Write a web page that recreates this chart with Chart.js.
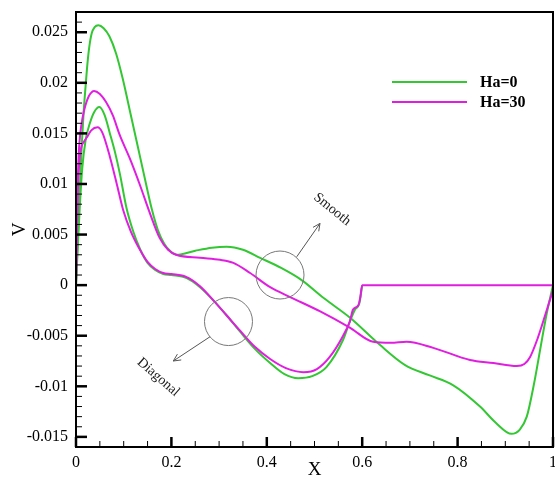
<!DOCTYPE html>
<html>
<head>
<meta charset="utf-8">
<script src="https://cdn.jsdelivr.net/npm/chart.js@4.4.0/dist/chart.umd.min.js"></script>
<style>
  html, body { margin: 0; padding: 0; background: #fff; }
</style>
</head>
<body>
<canvas id="myChart" width="555" height="481"></canvas>
<script>
// Ha=0, smooth
const xSmooth0 = [0, 0.004, 0.008, 0.012, 0.016, 0.02, 0.024, 0.028, 0.033, 0.039, 0.047, 0.058, 0.07, 0.084, 0.098, 0.115, 0.13, 0.145, 0.159, 0.172, 0.185, 0.197, 0.211, 0.25, 0.285, 0.316, 0.35, 0.386, 0.43, 0.473, 0.52, 0.574, 0.637, 0.69, 0.74, 0.791, 0.847, 0.88, 0.913, 0.93, 0.945, 0.96, 0.973, 0.986, 1];
const vSmooth0 = [0, 0.005, 0.0095, 0.0138, 0.0171, 0.0196, 0.0219, 0.0236, 0.0249, 0.0255, 0.0257, 0.0254, 0.0246, 0.0229, 0.0204, 0.0168, 0.0136, 0.0104, 0.0075, 0.0054, 0.0041, 0.0034, 0.003, 0.0034, 0.0037, 0.0038, 0.0035, 0.0027, 0.0017, 0.0005, -0.0013, -0.0032, -0.0059, -0.0079, -0.0089, -0.0099, -0.012, -0.0136, -0.0147, -0.0143, -0.013, -0.0098, -0.0064, -0.003, 0];

// Ha=0, diagonal
const xDiag0 = [0, 0.004, 0.008, 0.013, 0.02, 0.029, 0.038, 0.049, 0.06, 0.071, 0.082, 0.092, 0.106, 0.12, 0.134, 0.15, 0.166, 0.183, 0.2, 0.232, 0.26, 0.288, 0.316, 0.344, 0.375, 0.407, 0.437, 0.466, 0.495, 0.525, 0.56, 0.574, 0.585, 0.594, 0.6];
const vDiag0 = [0, 0.004, 0.0078, 0.0115, 0.0143, 0.016, 0.0171, 0.0176, 0.0168, 0.015, 0.0131, 0.011, 0.0076, 0.0053, 0.0036, 0.0022, 0.0015, 0.0011, 0.001, 0.0007, -0.0002, -0.0015, -0.003, -0.0046, -0.0063, -0.0077, -0.0088, -0.0092, -0.009, -0.0081, -0.0054, -0.0036, -0.0024, -0.0018, 0];

// Ha=30, smooth
const xSmooth30 = [0, 0.002, 0.004, 0.006, 0.009, 0.014, 0.02, 0.027, 0.038, 0.05, 0.063, 0.077, 0.092, 0.113, 0.134, 0.155, 0.175, 0.193, 0.21, 0.26, 0.302, 0.33, 0.365, 0.407, 0.45, 0.512, 0.574, 0.623, 0.66, 0.693, 0.749, 0.826, 0.875, 0.924, 0.94, 0.952, 0.966, 0.98, 1];
const vSmooth30 = [0, 0.006, 0.0105, 0.0132, 0.015, 0.0166, 0.0178, 0.0187, 0.0192, 0.0189, 0.0181, 0.0168, 0.0148, 0.0125, 0.0099, 0.0071, 0.0047, 0.0035, 0.003, 0.0027, 0.0025, 0.0022, 0.0012, -0.0002, -0.0012, -0.0026, -0.0042, -0.0056, -0.0057, -0.0056, -0.0062, -0.0074, -0.0077, -0.008, -0.0078, -0.0071, -0.0055, -0.0035, -0.0005];

// Ha=30, diagonal
const xDiag30 = [0, 0.002, 0.004, 0.007, 0.011, 0.017, 0.024, 0.032, 0.045, 0.055, 0.071, 0.085, 0.099, 0.115, 0.134, 0.15, 0.166, 0.183, 0.2, 0.232, 0.26, 0.288, 0.316, 0.344, 0.375, 0.407, 0.44, 0.477, 0.505, 0.532, 0.56, 0.574, 0.581, 0.592, 0.596, 0.6, 0.7, 0.8, 0.9, 1];
const vDiag30 = [0, 0.0055, 0.0095, 0.0122, 0.0136, 0.0142, 0.0147, 0.0153, 0.0156, 0.0151, 0.0127, 0.0101, 0.0074, 0.0053, 0.0035, 0.0023, 0.0016, 0.0012, 0.0011, 0.0008, -0.0001, -0.0015, -0.003, -0.0045, -0.0061, -0.0073, -0.0082, -0.0086, -0.0083, -0.0071, -0.005, -0.0036, -0.0024, -0.002, -0.0012, 0, 0, 0, 0, 0];

const seriesLabels = ["Ha=0", "Ha=30"];
const xTicks = [0, 0.2, 0.4, 0.6, 0.8, 1];
const xTickLabels = ["0", "0.2", "0.4", "0.6", "0.8", "1"];
const yTicks = [-0.015, -0.01, -0.005, 0, 0.005, 0.01, 0.015, 0.02, 0.025];
const yTickLabels = ["-0.015", "-0.01", "-0.005", "0", "0.005", "0.01", "0.015", "0.02", "0.025"];

const green = "#33c733";
const magenta = "#e01ee0";
const serif = "'Liberation Serif', 'Times New Roman', serif";

const pts = (xs, ys) => xs.map((x, i) => ({ x: x, y: ys[i] }));

function arrow(ctx, x0, y0, x1, y1) {
  const ang = Math.atan2(y1 - y0, x1 - x0);
  ctx.beginPath();
  ctx.moveTo(x0, y0);
  ctx.lineTo(x1, y1);
  ctx.moveTo(x1 - 8 * Math.cos(ang - 0.45), y1 - 8 * Math.sin(ang - 0.45));
  ctx.lineTo(x1, y1);
  ctx.lineTo(x1 - 8 * Math.cos(ang + 0.45), y1 - 8 * Math.sin(ang + 0.45));
  ctx.stroke();
}

const decorations = {
  id: "decorations",
  afterDatasetsDraw(chart) {
    const { ctx, chartArea: a, scales: { x, y } } = chart;
    ctx.save();

    // frame
    ctx.strokeStyle = "#000";
    ctx.lineWidth = 2;
    ctx.strokeRect(a.left, a.top, a.right - a.left, a.bottom - a.top);

    // inward ticks
    for (let i = 0; i <= 20; i++) {
      const major = i % 4 === 0;
      const px = x.getPixelForValue(i / 20);
      ctx.lineWidth = major ? 2.5 : 1;
      ctx.beginPath();
      ctx.moveTo(px, a.bottom);
      ctx.lineTo(px, a.bottom - (major ? 10 : 6));
      ctx.stroke();
    }
    for (let i = -16; i <= 27; i++) {
      const major = i % 5 === 0;
      const py = y.getPixelForValue(i / 1000);
      ctx.lineWidth = major ? 2.5 : 1;
      ctx.beginPath();
      ctx.moveTo(a.left, py);
      ctx.lineTo(a.left + (major ? 11 : 6), py);
      ctx.stroke();
    }

    // legend
    ctx.lineWidth = 2;
    ctx.font = "bold 16px " + serif;
    ctx.fillStyle = "#000";
    ctx.textBaseline = "middle";
    [[green, 82], [magenta, 102]].forEach((row, i) => {
      ctx.strokeStyle = row[0];
      ctx.beginPath();
      ctx.moveTo(392, row[1]);
      ctx.lineTo(467, row[1]);
      ctx.stroke();
      ctx.fillText(seriesLabels[i], 480, row[1] + 1);
    });

    // annotations
    ctx.strokeStyle = "#777";
    ctx.fillStyle = "#222";
    ctx.lineWidth = 1;
    const sx = x.getPixelForValue(0.4277), sy = y.getPixelForValue(0.001);
    ctx.beginPath();
    ctx.arc(sx, sy, 24, 0, Math.PI * 2);
    ctx.stroke();
    const dx = x.getPixelForValue(0.3197), dy = y.getPixelForValue(-0.0036);
    ctx.beginPath();
    ctx.arc(dx, dy, 24, 0, Math.PI * 2);
    ctx.stroke();
    ctx.strokeStyle = "#555";
    arrow(ctx, x.getPixelForValue(0.4627), y.getPixelForValue(0.0028),
               x.getPixelForValue(0.5115), y.getPixelForValue(0.0061));
    arrow(ctx, x.getPixelForValue(0.281), y.getPixelForValue(-0.0051),
               x.getPixelForValue(0.204), y.getPixelForValue(-0.0075));

    ctx.font = "14px " + serif;
    ctx.textAlign = "center";
    ctx.save();
    ctx.translate(x.getPixelForValue(0.537), y.getPixelForValue(0.0075));
    ctx.rotate(39 * Math.PI / 180);
    ctx.fillText("Smooth", 0, 0);
    ctx.restore();
    ctx.save();
    ctx.translate(x.getPixelForValue(0.1725), y.getPixelForValue(-0.0091));
    ctx.rotate(41 * Math.PI / 180);
    ctx.fillText("Diagonal", 0, 0);
    ctx.restore();

    ctx.restore();
  }
};

const ctx1 = document.querySelector("#myChart");

new Chart(ctx1, {
  type: "scatter",
  data: {
    datasets: [
      { label: seriesLabels[0], data: pts(xSmooth0, vSmooth0), borderColor: green, order: 3 },
      { label: seriesLabels[0], data: pts(xDiag0, vDiag0), borderColor: green, order: 2 },
      { label: seriesLabels[1], data: pts(xSmooth30, vSmooth30), borderColor: magenta, order: 1 },
      { label: seriesLabels[1], data: pts(xDiag30, vDiag30), borderColor: magenta, order: 0 },
    ],
  },
  options: {
    responsive: false,
    animation: false,
    showLine: true,
    layout: { padding: { top: 12, right: 2, left: 0, bottom: 0 } },
    elements: {
      point: { radius: 0, hoverRadius: 0 },
      line: { borderWidth: 2, cubicInterpolationMode: "monotone", fill: false },
    },
    plugins: { legend: { display: false }, tooltip: { enabled: false } },
    scales: {
      x: {
        type: "linear",
        min: 0,
        max: 1,
        grid: { display: false, drawTicks: false },
        border: { display: false },
        afterBuildTicks: (s) => { s.ticks = xTicks.map((v) => ({ value: v })); },
        afterFit: (s) => { s.height = 34; s.paddingLeft = 0; s.paddingRight = 0; },
        ticks: {
          color: "#000",
          padding: 6,
          font: { family: serif, size: 16 },
          callback: (v, i) => xTickLabels[i],
        },
        title: { display: true, text: "X", color: "#000", padding: 0, font: { family: serif, size: 19 } },
      },
      y: {
        type: "linear",
        min: -0.016,
        max: 0.027,
        grid: { display: false, drawTicks: false },
        border: { display: false },
        afterBuildTicks: (s) => { s.ticks = yTicks.map((v) => ({ value: v })); },
        afterFit: (s) => { s.width = 76; s.paddingTop = 0; s.paddingBottom = 0; },
        ticks: {
          color: "#000",
          padding: 8,
          font: { family: serif, size: 16 },
          callback: (v, i) => yTickLabels[i],
        },
        title: { display: true, text: "V", color: "#000", padding: { top: 9 }, font: { family: serif, size: 19 } },
      },
    },
  },
  plugins: [decorations],
});
</script>
</body>
</html>
